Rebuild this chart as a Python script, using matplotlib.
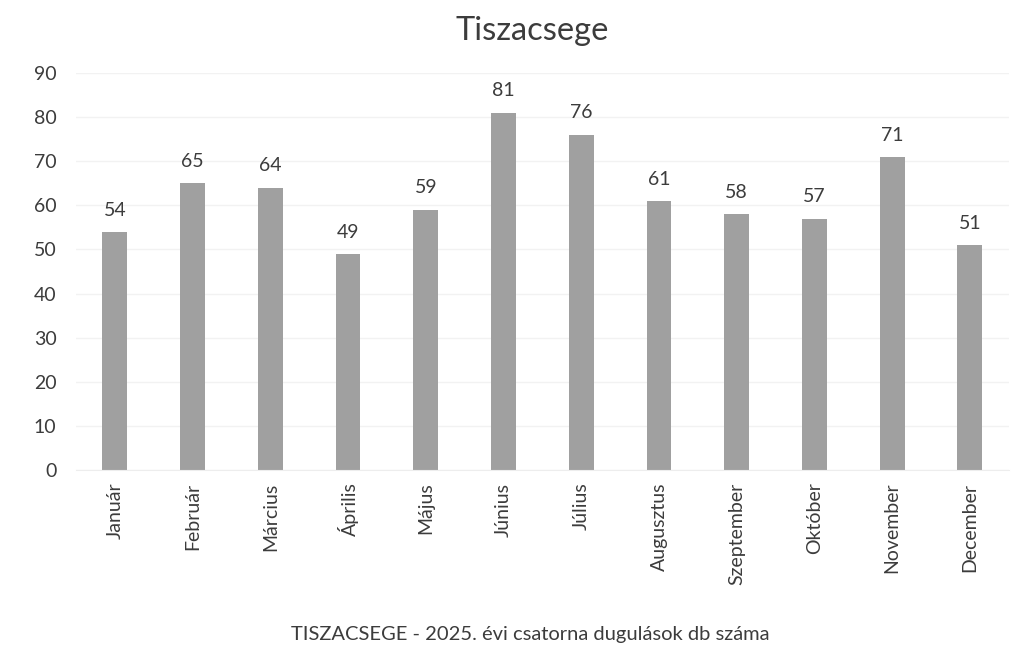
import matplotlib.pyplot as plt

# monthly blockage counts
MONTHS = ["Január", "Február", "Március", "Április", "Május", "Június",
          "Július", "Augusztus", "Szeptember", "Október", "November", "December"]
COUNTS = [54, 65, 64, 49, 59, 81, 76, 61, 58, 57, 71, 51]
Y_TICKS = [0, 10, 20, 30, 40, 50, 60, 70, 80, 90]

TITLE  = "Tiszacsege"
XLABEL = "TISZACSEGE - 2025. évi csatorna dugulások db száma"

TEXT_COLOR = "#3c3c3c"
BAR_COLOR  = "#a0a0a0"

plt.rcParams["font.family"] = ["Lato", "DejaVu Sans"]

fig = plt.figure(figsize=(10.21, 6.51), dpi=100)
ax = fig.add_axes([0.0744, 0.278, 0.9136, 0.610])

x = range(len(MONTHS))
bars = ax.bar(x, COUNTS, width=0.32, color=BAR_COLOR, zorder=2)

for rect, val in zip(bars, COUNTS):
    ax.text(rect.get_x() + rect.get_width() / 2, val + 3.0, str(val),
            ha="center", va="bottom", fontsize=14, color=TEXT_COLOR)

ax.set_xlim(-0.5, len(MONTHS) - 0.5)
ax.set_ylim(0, 90)
ax.set_yticks(Y_TICKS)
ax.set_xticks(list(x))
ax.set_xticklabels(MONTHS, rotation=90, fontsize=14, color=TEXT_COLOR)
ax.tick_params(axis="y", labelsize=14, labelcolor=TEXT_COLOR, length=0, pad=14)
ax.tick_params(axis="x", length=0, pad=9)

ax.grid(axis="y", color="#f2f2f2", linewidth=1, zorder=0)
for side in ["top", "right", "left"]:
    ax.spines[side].set_visible(False)
ax.spines["bottom"].set_color("#ededed")

fig.text(0.521, 0.952, TITLE, ha="center", va="center",
         fontsize=23.5, color=TEXT_COLOR)
fig.text(0.519, 0.025, XLABEL, ha="center", va="center",
         fontsize=14.5, color=TEXT_COLOR)

fig.savefig("out.png", dpi=100)
